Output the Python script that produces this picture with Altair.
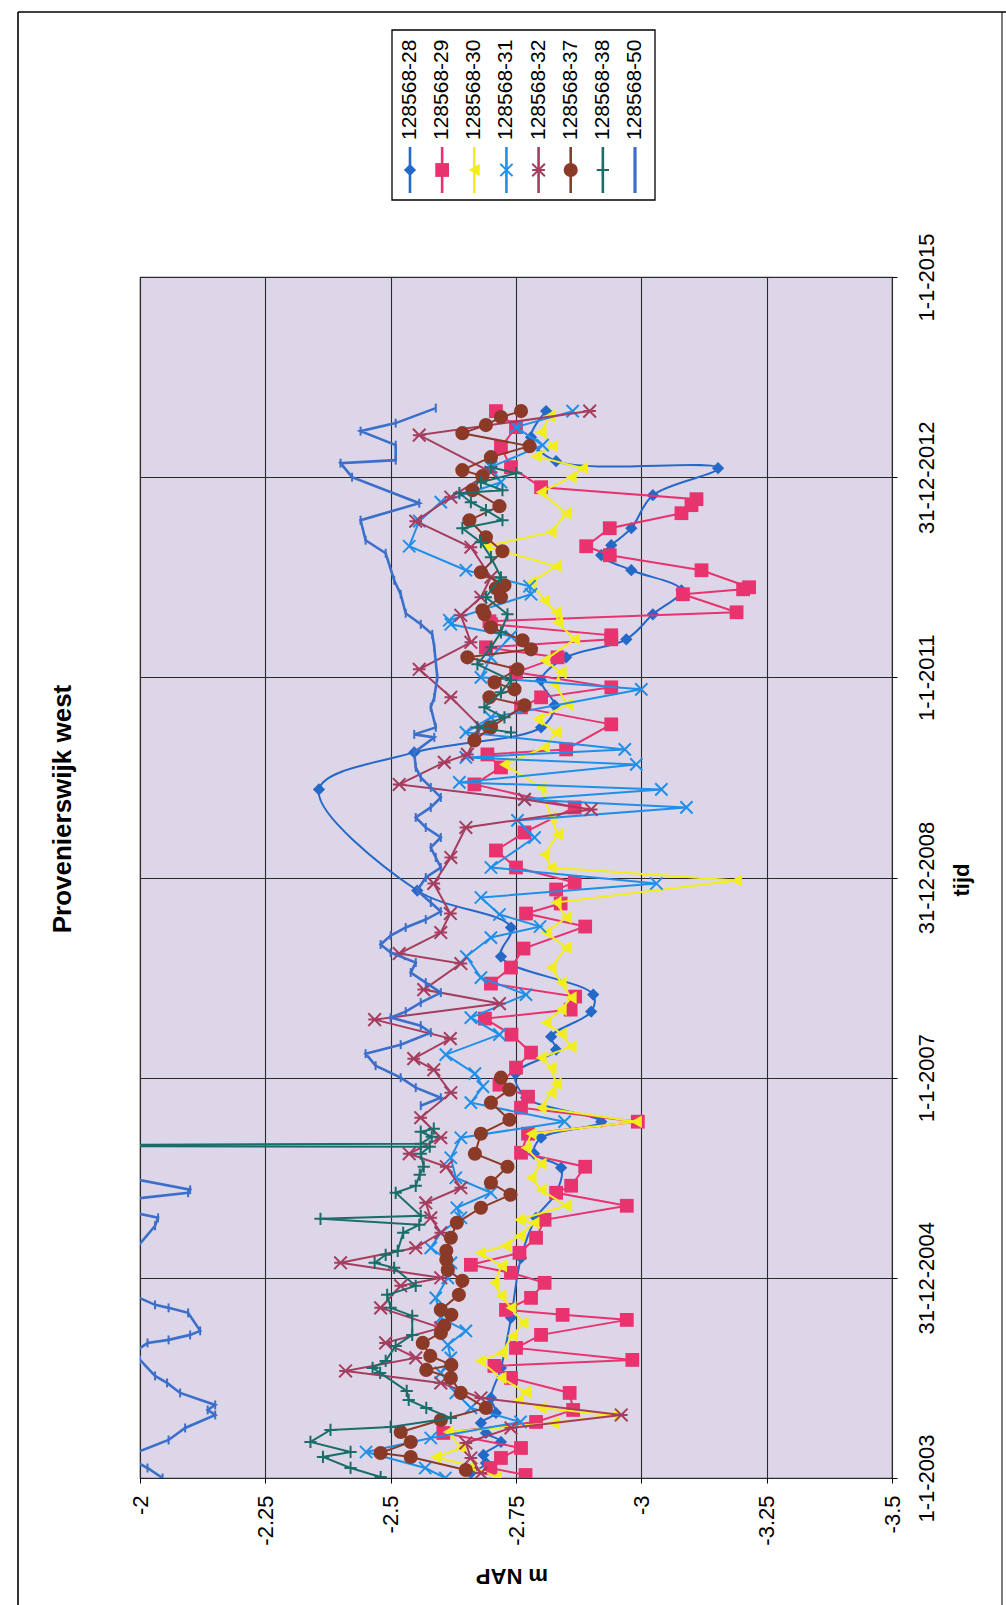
import altair as alt
import pandas as pd

# ---------------- data (decimal year, m NAP) ----------------
SERIES = ["128568-28", "128568-29", "128568-30", "128568-31",
          "128568-32", "128568-37", "128568-38", "128568-50"]
COLORS = ["#2468c8", "#e8336f", "#f2ee1c", "#1f8fe8",
          "#a63d5e", "#8c3a28", "#1a6e6a", "#3b6fca"]

P28 = [(2003.05,-2.66),(2003.15,-2.69),(2003.23,-2.685),(2003.36,-2.72),(2003.45,-2.69),
       (2003.55,-2.68),(2003.65,-2.71),(2003.8,-2.70),(2004.1,-2.72),(2004.6,-2.74),
       (2005.2,-2.76),(2005.6,-2.79),(2005.85,-2.83),(2006.1,-2.84),(2006.24,-2.786),
       (2006.4,-2.8),(2006.56,-2.92),(2006.8,-2.77),(2007.04,-2.749),(2007.28,-2.83),
       (2007.41,-2.82),(2007.66,-2.9),(2007.83,-2.904),(2008.21,-2.72),(2008.5,-2.74),
       (2008.87,-2.553),(2009.88,-2.357),(2010.25,-2.547),(2010.5,-2.8),(2010.72,-2.827),
       (2010.97,-2.8),(2011.2,-2.85),(2011.38,-2.97),(2011.63,-3.023),(2011.87,-3.08),
       (2012.07,-2.98),(2012.22,-2.92),(2012.32,-2.94),(2012.49,-2.98),(2012.82,-3.023),
       (2013.09,-3.153),(2013.16,-2.83),(2013.4,-2.78),(2013.66,-2.81)]

P29 = [(2003.03,-2.769),(2003.1,-2.699),(2003.2,-2.72),(2003.3,-2.76),(2003.45,-2.605),
       (2003.56,-2.79),(2003.68,-2.864),(2003.85,-2.857),(2004.0,-2.74),(2004.12,-2.707),
       (2004.18,-2.982),(2004.3,-2.75),(2004.43,-2.8),(2004.58,-2.971),(2004.63,-2.843),
       (2004.68,-2.73),(2004.8,-2.78),(2004.95,-2.807),(2005.05,-2.74),(2005.13,-2.66),
       (2005.25,-2.757),(2005.4,-2.79),(2005.58,-2.807),(2005.72,-2.971),(2005.85,-2.83),
       (2005.92,-2.86),(2006.11,-2.888),(2006.25,-2.76),(2006.44,-2.774),(2006.56,-2.993),
       (2006.7,-2.76),(2006.81,-2.774),(2006.93,-2.717),(2007.1,-2.75),(2007.25,-2.78),
       (2007.43,-2.741),(2007.59,-2.688),(2007.68,-2.859),(2007.81,-2.868),(2007.94,-2.7),
       (2008.1,-2.74),(2008.29,-2.765),(2008.51,-2.888),(2008.64,-2.77),(2008.74,-2.839),
       (2008.88,-2.83),(2008.95,-2.867),(2009.1,-2.75),(2009.27,-2.71),(2009.45,-2.767),
       (2009.7,-2.867),(2009.93,-2.667),(2010.1,-2.72),(2010.23,-2.693),(2010.28,-2.85),
       (2010.53,-2.94),(2010.7,-2.76),(2010.8,-2.8),(2010.9,-2.94),(2011.05,-2.75),
       (2011.2,-2.833),(2011.3,-2.69),(2011.38,-2.94),(2011.42,-2.94),(2011.53,-2.7),
       (2011.56,-2.697),(2011.65,-3.19),(2011.83,-3.083),(2011.88,-3.203),(2011.9,-3.215),
       (2012.07,-3.12),(2012.22,-2.937),(2012.31,-2.89),(2012.49,-2.937),(2012.64,-3.08),
       (2012.72,-3.1),(2012.78,-3.11),(2012.9,-2.8),(2013.1,-2.74),(2013.3,-2.72),
       (2013.5,-2.75),(2013.66,-2.71)]

P30 = [(2003.01,-2.711),(2003.12,-2.66),(2003.21,-2.59),(2003.3,-2.64),(2003.46,-2.615),
       (2003.55,-2.825),(2003.63,-2.945),(2003.7,-2.8),(2003.78,-2.755),(2003.86,-2.769),
       (2004.0,-2.72),(2004.17,-2.679),(2004.25,-2.721),(2004.42,-2.743),(2004.55,-2.764),
       (2004.7,-2.74),(2004.82,-2.72),(2004.95,-2.707),(2005.12,-2.721),(2005.25,-2.679),
       (2005.32,-2.729),(2005.42,-2.757),(2005.55,-2.786),(2005.58,-2.757),(2005.72,-2.85),
       (2005.88,-2.8),(2006.0,-2.78),(2006.14,-2.8),(2006.3,-2.77),(2006.44,-2.78),
       (2006.56,-2.99),(2006.7,-2.8),(2006.85,-2.82),(2006.94,-2.83),(2007.1,-2.82),
       (2007.2,-2.8),(2007.31,-2.86),(2007.44,-2.84),(2007.55,-2.81),(2007.68,-2.84),
       (2007.8,-2.86),(2007.95,-2.84),(2008.1,-2.82),(2008.3,-2.85),(2008.45,-2.81),
       (2008.6,-2.85),(2008.75,-2.83),(2008.97,-3.19),(2009.1,-2.82),(2009.23,-2.807),
       (2009.43,-2.833),(2009.6,-2.82),(2009.9,-2.8),(2010.13,-2.727),(2010.3,-2.807),
       (2010.45,-2.83),(2010.58,-2.793),(2010.73,-2.853),(2010.93,-2.827),(2011.05,-2.84),
       (2011.17,-2.807),(2011.38,-2.867),(2011.55,-2.833),(2011.65,-2.83),(2011.77,-2.807),
       (2011.95,-2.78),(2012.11,-2.83),(2012.31,-2.69),(2012.45,-2.82),(2012.64,-2.85),
       (2012.85,-2.8),(2013.0,-2.86),(2013.09,-2.883),(2013.21,-2.79),(2013.31,-2.823),
       (2013.45,-2.8),(2013.61,-2.817)]

P31 = [(2003.0,-2.609),(2003.1,-2.569),(2003.26,-2.451),(2003.4,-2.58),(2003.56,-2.759),
       (2003.7,-2.66),(2003.85,-2.63),(2004.05,-2.6),(2004.2,-2.62),(2004.33,-2.614),
       (2004.47,-2.65),(2004.6,-2.6),(2004.8,-2.59),(2005.0,-2.614),(2005.15,-2.62),
       (2005.3,-2.58),(2005.45,-2.6),(2005.6,-2.64),(2005.7,-2.632),(2005.85,-2.7),
       (2006.0,-2.63),(2006.2,-2.62),(2006.4,-2.64),(2006.56,-2.847),(2006.75,-2.66),
       (2006.91,-2.684),(2007.04,-2.668),(2007.23,-2.61),(2007.43,-2.717),(2007.6,-2.66),
       (2007.83,-2.77),(2008.0,-2.68),(2008.21,-2.651),(2008.4,-2.7),(2008.51,-2.798),
       (2008.63,-2.717),(2008.8,-2.68),(2008.94,-3.03),(2009.1,-2.7),(2009.4,-2.787),
       (2009.57,-2.753),(2009.7,-3.09),(2009.78,-2.767),(2009.88,-3.04),(2009.95,-2.637),
       (2010.13,-2.99),(2010.2,-2.65),(2010.28,-2.967),(2010.45,-2.65),(2010.6,-2.7),
       (2010.88,-3.0),(2011.0,-2.68),(2011.2,-2.7),(2011.41,-2.74),(2011.53,-2.62),
       (2011.57,-2.617),(2011.83,-2.78),(2011.91,-2.777),(2012.07,-2.65),(2012.31,-2.537),
       (2012.56,-2.557),(2012.75,-2.6),(2012.95,-2.72),(2013.1,-2.7),(2013.32,-2.803),
       (2013.5,-2.75),(2013.66,-2.863)]

P32 = [(2003.05,-2.68),(2003.2,-2.66),(2003.35,-2.65),(2003.5,-2.74),(2003.63,-2.96),
       (2003.8,-2.68),(2003.95,-2.6),(2004.07,-2.41),(2004.2,-2.55),(2004.35,-2.49),
       (2004.5,-2.6),(2004.7,-2.48),(2004.92,-2.52),(2005.0,-2.6),(2005.15,-2.4),
       (2005.3,-2.55),(2005.45,-2.6),(2005.6,-2.58),(2005.75,-2.57),(2005.9,-2.64),
       (2006.11,-2.611),(2006.24,-2.537),(2006.4,-2.6),(2006.6,-2.56),(2006.85,-2.62),
       (2007.08,-2.586),(2007.19,-2.546),(2007.39,-2.619),(2007.58,-2.468),(2007.74,-2.717),
       (2007.88,-2.566),(2008.14,-2.64),(2008.24,-2.517),(2008.45,-2.6),(2008.64,-2.619),
       (2008.94,-2.586),(2009.2,-2.62),(2009.5,-2.65),(2009.68,-2.9),(2009.78,-2.767),
       (2009.93,-2.517),(2010.15,-2.607),(2010.23,-2.653),(2010.5,-2.68),(2010.8,-2.62),
       (2011.08,-2.557),(2011.35,-2.66),(2011.62,-2.64),(2011.8,-2.68),(2012.0,-2.7),
       (2012.3,-2.66),(2012.56,-2.55),(2012.8,-2.62),(2013.05,-2.7),(2013.42,-2.557),
       (2013.66,-2.897)]

P37 = [(2003.08,-2.65),(2003.21,-2.54),(2003.25,-2.48),(2003.36,-2.54),(2003.46,-2.52),
       (2003.58,-2.6),(2003.7,-2.69),(2003.85,-2.64),(2004.0,-2.62),(2004.08,-2.571),
       (2004.13,-2.621),(2004.22,-2.579),(2004.35,-2.564),(2004.45,-2.6),(2004.52,-2.607),
       (2004.63,-2.621),(2004.68,-2.6),(2004.83,-2.636),(2004.97,-2.643),(2005.08,-2.614),
       (2005.18,-2.611),(2005.27,-2.611),(2005.4,-2.62),(2005.55,-2.632),(2005.7,-2.68),
       (2005.83,-2.739),(2005.95,-2.7),(2006.11,-2.733),(2006.24,-2.668),(2006.44,-2.68),
       (2006.58,-2.737),(2006.75,-2.7),(2006.88,-2.737),(2007.0,-2.72),
       (2010.37,-2.667),(2010.5,-2.7),(2010.72,-2.767),(2010.8,-2.697),(2010.88,-2.747),
       (2010.95,-2.707),(2011.08,-2.753),(2011.2,-2.653),(2011.28,-2.78),(2011.37,-2.763),
       (2011.5,-2.7),(2011.63,-2.687),(2011.67,-2.683),(2011.8,-2.72),(2011.89,-2.71),
       (2011.92,-2.727),(2012.05,-2.68),(2012.26,-2.723),(2012.4,-2.69),(2012.57,-2.657),
       (2012.71,-2.717),(2012.87,-2.663),(2013.01,-2.683),(2013.07,-2.643),(2013.2,-2.7),
       (2013.31,-2.777),(2013.44,-2.643),(2013.52,-2.69),(2013.6,-2.72),(2013.66,-2.76)]

P38 = [(2003.01,-2.48),(2003.1,-2.42),(2003.21,-2.365),(2003.26,-2.42),(2003.36,-2.34),
       (2003.48,-2.38),(2003.51,-2.5),(2003.6,-2.62),(2003.7,-2.571),(2003.78,-2.536),
       (2003.87,-2.532),(2004.05,-2.479),(2004.1,-2.464),(2004.17,-2.49),(2004.32,-2.51),
       (2004.43,-2.543),(2004.62,-2.543),(2004.7,-2.5),(2004.83,-2.493),(2004.92,-2.55),
       (2005.1,-2.507),(2005.15,-2.468),(2005.23,-2.49),(2005.27,-2.514),(2005.45,-2.525),
       (2005.53,-2.557),(2005.59,-2.36),(2005.62,-2.56),(2005.85,-2.51),(2005.92,-2.55),
       (2006.03,-2.558),(2006.11,-2.566),(2006.24,-2.56),(2006.31,-2.578),(2006.32,-1.5),
       (2006.34,-2.56),(2006.41,-2.582),(2006.46,-2.56),(2006.49,-2.586),
       (2010.45,-2.74),(2010.5,-2.673),(2010.6,-2.727),(2010.7,-2.687),(2010.85,-2.72),
       (2010.97,-2.74),(2011.13,-2.673),(2011.3,-2.7),(2011.45,-2.72),(2011.63,-2.733),
       (2011.8,-2.69),(2012.0,-2.72),(2012.2,-2.7),(2012.35,-2.68),(2012.49,-2.643),
       (2012.57,-2.723),(2012.67,-2.69),(2012.75,-2.66),(2012.84,-2.637),(2012.87,-2.723),
       (2012.95,-2.68),(2013.04,-2.75),(2013.1,-2.7)]

P50 = [(2003.0,-2.045),(2003.1,-2.015),(2003.18,-1.985),(2003.25,-1.99),(2003.38,-2.057),
       (2003.5,-2.09),(2003.63,-2.15),(2003.68,-2.135),(2003.73,-2.15),(2003.85,-2.08),
       (2003.95,-2.054),(2004.02,-2.03),(2004.18,-2.0),(2004.28,-1.995),(2004.35,-2.015),
       (2004.38,-2.057),(2004.43,-2.1),(2004.47,-2.12),(2004.65,-2.096),(2004.7,-2.057),
       (2004.73,-2.03),(2004.82,-1.99),(2004.95,-1.96),(2005.2,-1.97),(2005.28,-1.99),
       (2005.52,-2.03),(2005.6,-2.036),(2005.65,-1.99),(2005.78,-1.97),(2005.85,-2.096),
       (2005.88,-2.1),(2005.98,-1.996),(2006.1,-1.97),
       (2006.72,-2.56),(2006.8,-2.6),(2006.9,-2.55),(2007.0,-2.52),(2007.12,-2.47),
       (2007.24,-2.45),(2007.33,-2.52),(2007.45,-2.58),(2007.52,-2.56),(2007.6,-2.5),
       (2007.66,-2.53),(2007.75,-2.56),(2007.85,-2.6),(2007.95,-2.57),(2008.05,-2.54),
       (2008.15,-2.55),(2008.25,-2.5),(2008.33,-2.48),(2008.42,-2.5),(2008.5,-2.53),
       (2008.58,-2.57),(2008.66,-2.6),(2008.75,-2.58),(2008.87,-2.553),(2009.0,-2.57),
       (2009.1,-2.6),(2009.2,-2.59),(2009.3,-2.58),(2009.4,-2.6),(2009.5,-2.57),
       (2009.6,-2.55),(2009.7,-2.58),(2009.8,-2.6),(2009.9,-2.58),(2010.0,-2.56),
       (2010.1,-2.55),(2010.25,-2.547),(2010.4,-2.587),(2010.43,-2.547),(2010.5,-2.59),
       (2010.7,-2.58),(2010.8,-2.587),(2011.0,-2.593),(2011.3,-2.587),(2011.43,-2.583),
       (2011.53,-2.56),(2011.64,-2.53),(2011.83,-2.52),(2011.97,-2.507),(2012.24,-2.49),
       (2012.37,-2.45),(2012.57,-2.44),(2012.74,-2.557),(2013.0,-2.423),(2013.14,-2.4),
       (2013.17,-2.51),(2013.32,-2.51),(2013.46,-2.44),(2013.54,-2.51),(2013.69,-2.59)]

POINTS = [P28, P29, P30, P31, P32, P37, P38, P50]
# gaps in the record (no line drawn across them)
BREAKS = {"128568-37": [2008.5], "128568-38": [2008.0], "128568-50": [2006.4]}

VALUE_TICKS = [-2, -2.25, -2.5, -2.75, -3, -3.25, -3.5]
TIME_TICKS = [2003, 2005, 2007, 2009, 2011, 2013, 2015]
TIME_LABELS = ["1-1-2003", "31-12-2004", "1-1-2007", "31-12-2008",
               "1-1-2011", "31-12-2012", "1-1-2015"]
TITLE = "Provenierswijk west"

# ---------------- styles ----------------
FONT = "Liberation Sans"
SHAPES = ["diamond", "square", "triangle-left", "M-1,-1L1,1M-1,1L1,-1",
          "M-1,-1L1,1M-1,1L1,-1M-1,0L1,0", "circle", "M-1,0L1,0M0,-1L0,1", "M0,-1L0,1"]
FILLED = [True, True, True, False, False, True, False, False]
SIZES = [150, 190, 160, 150, 160, 200, 150, 80]
LINE_W = [2.0, 2.0, 2.0, 2.0, 2.0, 2.0, 2.0, 2.6]
INTERP = ["catmull-rom", "linear", "linear", "linear", "linear", "linear", "linear", "linear"]

rows = []
for name, pts in zip(SERIES, POINTS):
    for t, v in pts:
        seg = sum(1 for b in BREAKS.get(name, []) if t > b)
        rows.append({"series": name, "t": t, "v": v, "seg": seg})
df = pd.DataFrame(rows)

label_expr = ""
for val, lab in zip(TIME_TICKS, TIME_LABELS):
    label_expr += f"round(datum.value) == {val} ? '{lab}' : "
label_expr += "''"

X = alt.X("v:Q",
          scale=alt.Scale(domain=[-3.5, -2], reverse=True, nice=False, zero=False),
          axis=alt.Axis(orient="bottom", values=VALUE_TICKS, labelExpr="'' + datum.value",
                        labelAngle=270, labelAlign="right", labelBaseline="middle",
                        labelFont=FONT, labelFontSize=22, labelColor="black",
                        labelPadding=12, labelFlush=False, labelOverlap=False,
                        tickSize=5, tickColor="black", domain=False,
                        grid=True, gridColor="#2a2a2a", gridWidth=1.1, title=None))
Y = alt.Y("t:Q",
          scale=alt.Scale(domain=[2003, 2015], nice=False, zero=False),
          axis=alt.Axis(orient="right", values=TIME_TICKS, labelExpr=label_expr,
                        labelAngle=270, labelAlign="center", labelBaseline="top",
                        labelFont=FONT, labelFontSize=22, labelColor="black",
                        labelPadding=19, labelFlush=False, labelOverlap=False,
                        tickSize=5, tickColor="black", domain=False,
                        grid=True, gridColor="#2a2a2a", gridWidth=1.1, title=None))

data_layers = []
for i, name in enumerate(SERIES):
    sub = df[df["series"] == name]
    base = alt.Chart(sub)
    line = base.mark_line(color=COLORS[i], strokeWidth=LINE_W[i], interpolate=INTERP[i],
                          clip=True).encode(x=X, y=Y, detail="seg:N", order="t:Q")
    if FILLED[i]:
        pts = base.mark_point(shape=SHAPES[i], size=SIZES[i], filled=True, opacity=1,
                              color=COLORS[i], clip=True)
    else:
        pts = base.mark_point(shape=SHAPES[i], size=SIZES[i], filled=False, opacity=1,
                              color=COLORS[i], strokeWidth=2.0, clip=True)
    data_layers += [line, pts.encode(x=X, y=Y)]
data_layer = alt.layer(*data_layers)

# ---------------- legend (drawn rotated, like the reference) ----------------
LX = alt.X("series:N", scale=alt.Scale(type="point", domain=SERIES, range=[270, 495], padding=0),
           axis=None)
leg_layers = []
for i, name in enumerate(SERIES):
    ld = alt.Chart(pd.DataFrame({"series": [name]}))
    leg_layers.append(ld.mark_rule(color=COLORS[i], strokeWidth=LINE_W[i] + 0.6).encode(
        x=LX, y=alt.value(-130), y2=alt.value(-84)))
    if FILLED[i]:
        p = ld.mark_point(shape=SHAPES[i], size=SIZES[i], filled=True, opacity=1, color=COLORS[i])
    else:
        p = ld.mark_point(shape=SHAPES[i], size=SIZES[i], filled=False, opacity=1,
                          color=COLORS[i], strokeWidth=2.0)
    leg_layers.append(p.encode(x=LX, y=alt.value(-107)))
    leg_layers.append(ld.mark_text(angle=270, align="left", baseline="middle", font=FONT,
                                   fontSize=21, color="black").encode(
        x=LX, y=alt.value(-137), text="series:N"))
legend_layer = alt.layer(*leg_layers)

one = pd.DataFrame({"a": [0]})
legend_box = alt.Chart(one).mark_rect(fill="white", stroke="black", strokeWidth=1.3).encode(
    x=alt.value(252), x2=alt.value(515), y=alt.value(-247), y2=alt.value(-77))
frame_left = alt.Chart(one).mark_rule(color="black", strokeWidth=1.6).encode(
    x=alt.value(-122), y=alt.value(-265), y2=alt.value(1328))
frame_right = alt.Chart(one).mark_rule(color="#444", strokeWidth=1.4).encode(
    x=alt.value(862), y=alt.value(-265), y2=alt.value(1328))
frame_top = alt.Chart(one).mark_rule(color="black", strokeWidth=1.6).encode(
    x=alt.value(-122), x2=alt.value(866), y=alt.value(-265))

title_txt = alt.Chart(one).mark_text(angle=270, align="center", baseline="middle", font=FONT,
                                     fontSize=26, fontWeight="bold", color="black").encode(
    x=alt.value(-77), y=alt.value(532), text=alt.value(TITLE))
tijd_txt = alt.Chart(one).mark_text(angle=270, align="center", baseline="middle", font=FONT,
                                    fontSize=22, fontWeight="bold", color="black").encode(
    x=alt.value(822), y=alt.value(603), text=alt.value("tijd"))
nap_txt = alt.Chart(one).mark_text(angle=180, align="center", baseline="middle", font=FONT,
                                   fontSize=22, fontWeight="bold", color="black").encode(
    x=alt.value(372), y=alt.value(1299), text=alt.value("m NAP"))

chart = alt.layer(
    frame_left, frame_right, frame_top, legend_box, data_layer, legend_layer,
    title_txt, tijd_txt, nap_txt
).resolve_scale(x="independent", y="independent").properties(
    width=752, height=1201,
    padding={"left": 140, "top": 277, "right": 114, "bottom": 127},
    autosize=alt.AutoSizeParams(type="none"),
).configure(background="white").configure_view(
    fill="#ddd6e8", stroke="#3a3a3a", strokeWidth=1.2
)

chart.save("out.html", embed_options={"renderer": "svg", "actions": False})
